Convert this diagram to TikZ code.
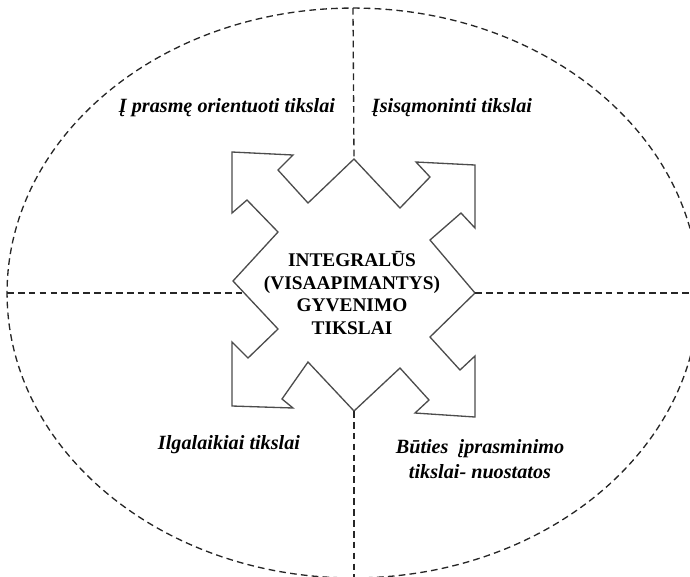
\documentclass[tikz,border=0pt]{standalone}
\usepackage{fontspec}
\setmainfont{Liberation Serif}
\usetikzlibrary{shapes,arrows,positioning}
\tikzstyle{divider} = [line width=0.75pt, dash pattern=on 3.8pt off 2.4pt, black!85]
\tikzstyle{goal} = [font=\fontsize{11.5}{14}\selectfont\bfseries\itshape, align=center]

\begin{document}
\begin{tikzpicture}[x=0.02cm, y=-0.02cm,
          core/.style={draw=black!70, line width=0.75pt, fill=white},
          every node/.style={inner sep=0pt}]
  \useasboundingbox (0,0) rectangle (690,576);
  \clip (0,0) rectangle (690,576);
  % outer ring and the four quarters
  \draw[divider] (353,293) ellipse [x radius=6.92cm, y radius=5.7cm];
  \coordinate (north) at (353,8);
  \coordinate (south) at (354,600);
  \coordinate (west) at (7,293);
  \coordinate (east) at (700,293);
  \coordinate (top) at (354,159);
  \coordinate (bottom) at (354,411);
  \coordinate (left) at (233,281);
  \coordinate (right) at (475,293);
  \coordinate (leftcut) at (244,293);
  % four-way arrow
  \draw[core] (232,152) -- (293,155) -- (278,170) -- (308,203) -- (top)
    -- (400,208) -- (430,177) -- (416,162) -- (475,165)
    -- (475,228) -- (461,213) -- (430,240) -- (right)
    -- (430,337) -- (460,370) -- (475,356) -- (475,417)
    -- (415,413) -- (429,400) -- (400,368) -- (bottom)
    -- (308,362) -- (282,399) -- (293,408) -- (232,406)
    -- (232,342) -- (248,358) -- (278,329) -- (left)
    -- (278,232) -- (247,200) -- (232,213) -- cycle;
  \draw[divider] (north) -- (top);
  \draw[divider] (bottom) -- (south);
  \draw[divider] (west) -- (leftcut);
  \draw[divider] (right) -- (east);
  \node[align=center, font=\fontsize{11}{13}\selectfont\bfseries] (centre) at (352,293)
    {INTEGRALŪS\\(VISAAPIMANTYS)\\GYVENIMO\\TIKSLAI};
  \node[goal] (meaning) at (227,108) {Į prasmę orientuoti tikslai};
  \node[goal] (aware) at (452,108) {Įsisąmoninti tikslai};
  \node[goal] (longterm) at (229,445) {Ilgalaikiai tikslai};
  \node[goal] (being) at (480,459) {Būties~~įprasminimo\\tikslai- nuostatos};
\end{tikzpicture}
\end{document}
